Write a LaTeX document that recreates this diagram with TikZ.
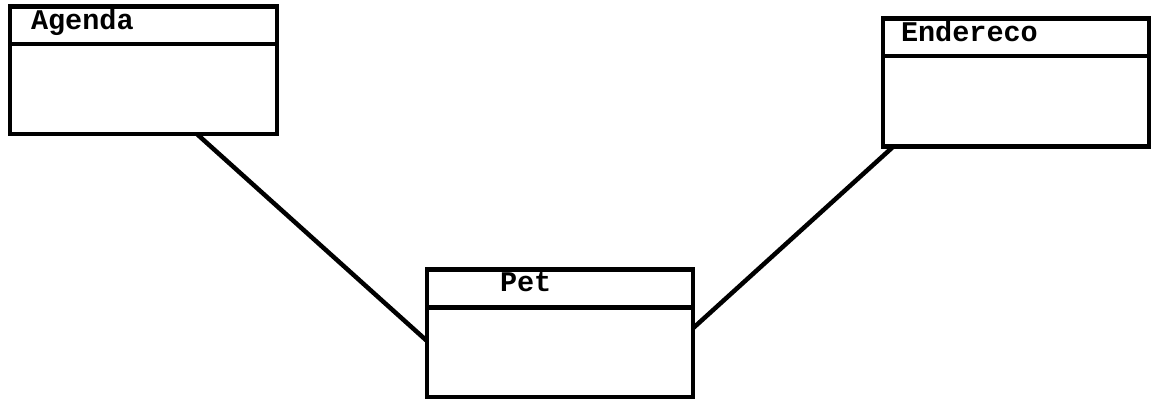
\documentclass[tikz,border=0pt]{standalone}
\usepackage{fontspec}
\setmonofont{Liberation Mono}
\usetikzlibrary{calc}
\begin{document}
\begin{tikzpicture}[x=1pt,y=-1pt,
  classbox/.style={draw=black, line width=4.5pt, rectangle, inner sep=0pt, outer sep=0pt, minimum width=266pt, minimum height=128pt},
  title/.style={anchor=base west, inner sep=0pt, outer sep=0pt, font=\fontsize{28.5}{30}\selectfont\ttfamily\bfseries},
  link/.style={draw=black, line width=4.5pt}]
\useasboundingbox (0,0) rectangle (1162,406);
% boxes
\node[classbox, minimum width=267pt, minimum height=127.7pt] (agenda) at (143.5,70.15) {};
\node[classbox, minimum height=127.3pt] (pet) at (560,333.35) {};
\node[classbox] (endereco) at (1016,82.3) {};
% header separators
\foreach \b in {agenda,pet,endereco}{
  \draw[line width=4.5pt] ($(\b.north west)+(0,37.7)$) -- ($(\b.north east)+(0,37.7)$);
}
% titles
\node[title] (tagenda) at ($(agenda.north west)+(21,23)$) {Agenda};
\node[title] (tpet) at ($(pet.north west)+(73,22)$) {Pet};
\node[title] (tendereco) at ($(endereco.north west)+(18,23.7)$) {Endereco};
% connectors
\coordinate (a1) at ($(agenda.south west)!0.70!(agenda.south east)$);
\coordinate (p1) at ($(pet.north west)!0.56!(pet.south west)$);
\coordinate (e1) at ($(endereco.south west)!0.04!(endereco.south east)$);
\coordinate (p2) at ($(pet.north east)!0.46!(pet.south east)$);
\draw[link] (a1) -- (p1);
\draw[link] (e1) -- (p2);
\end{tikzpicture}
\end{document}
